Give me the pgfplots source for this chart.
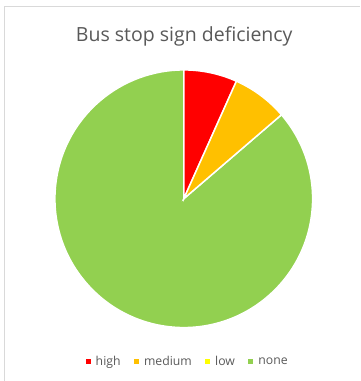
\documentclass[border=0pt]{standalone}
\usepackage{pgfplots}
\usepackage{pgfplotstable}
\pgfplotsset{compat=1.18}
\usepackage{fontspec}
\setmainfont{Open Sans}
\definecolor{txt}{HTML}{595959}
\definecolor{cHigh}{HTML}{FF0000}
\definecolor{cMed}{HTML}{FFC000}
\definecolor{cLow}{HTML}{FFFF00}
\definecolor{cNone}{HTML}{92D050}
\definecolor{frame}{HTML}{D9D9D9}
\pgfplotstableread{
label value
high 6.7
medium 7.0
low 0
none 86.3
}\piedata
\begin{document}
\begin{tikzpicture}
\pgfplotstablegetelem{0}{value}\of\piedata \let\vA\pgfplotsretval
\pgfplotstablegetelem{1}{value}\of\piedata \let\vB\pgfplotsretval
\pgfplotstablegetelem{2}{value}\of\piedata \let\vC\pgfplotsretval
\pgfplotstablegetelem{3}{value}\of\piedata \let\vD\pgfplotsretval
\pgfmathsetmacro\sA{90}
\pgfmathsetmacro\eA{\sA-3.6*\vA}
\pgfmathsetmacro\eB{\eA-3.6*\vB}
\pgfmathsetmacro\eC{\eB-3.6*\vC}
\pgfmathsetmacro\eD{\eC-3.6*\vD}
\begin{axis}[
  x=1bp, y=1bp, xmin=0, xmax=360, ymin=0, ymax=381,
  hide axis, clip=false,
  legend columns=4,
  legend style={at={(axis cs:187,19)}, anchor=center, draw=none, fill=none,
    font=\fontsize{12.3}{14}\selectfont, text=txt,
    nodes={inner sep=0pt},
    /tikz/every odd column/.append style={column sep=5bp},
    /tikz/every even column/.append style={column sep=13.5bp}},
  legend image code/.code={\fill[#1,draw=none] (0bp,-2.6bp) rectangle (5bp,2.6bp);},
]
\path (axis cs:0,0) rectangle (axis cs:360,381);
\draw[frame, line width=1bp] (axis cs:5,0) -- (axis cs:5,374) -- (axis cs:360,374);
\addlegendimage{cHigh}\addlegendentry{high}
\addlegendimage{cMed}\addlegendentry{medium}
\addlegendimage{cLow}\addlegendentry{low}
\addlegendimage{cNone}\addlegendentry{none}
\filldraw[fill=cNone, draw=white, line width=1.5bp] (axis cs:184,182) -- ++(\eC:129bp) arc[start angle=\eC, end angle=\eD, radius=129bp] -- cycle;
\filldraw[fill=cHigh, draw=white, line width=1.5bp] (axis cs:184,182) -- ++(\sA:129bp) arc[start angle=\sA, end angle=\eA, radius=129bp] -- cycle;
\filldraw[fill=cMed, draw=white, line width=1.5bp] (axis cs:184,182) -- ++(\eA:129bp) arc[start angle=\eA, end angle=\eB, radius=129bp] -- cycle;
\node[anchor=base, text=txt, font=\fontsize{19.6}{22}\selectfont] at (axis cs:184.5,339.5) {Bus stop sign deficiency};
\end{axis}
\end{tikzpicture}
\end{document}
